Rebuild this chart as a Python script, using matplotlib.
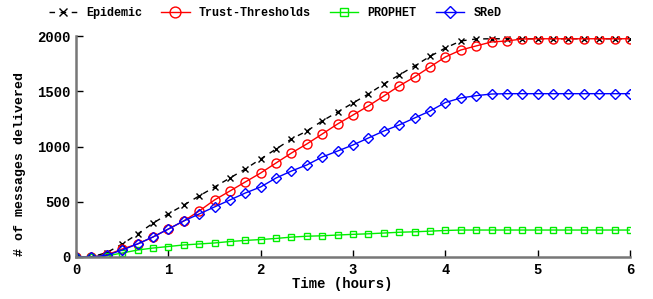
import numpy as np
import matplotlib.pyplot as plt

# time in hours, one sample every 10 minutes
time_h = np.arange(37) / 6.0

epidemic = [0, 0, 40, 117, 208, 306, 390, 470, 552, 633, 715, 796, 887, 977,
            1068, 1140, 1231, 1312, 1394, 1475, 1566, 1647, 1729, 1815, 1891,
            1955, 1973, 1975, 1975, 1975, 1975, 1975, 1975, 1975, 1975, 1975, 1975]
trust = [0, 0, 18, 72, 118, 181, 253, 326, 416, 516, 597, 679, 760, 851, 941,
         1023, 1113, 1204, 1285, 1367, 1457, 1548, 1629, 1720, 1810, 1873, 1910,
         1946, 1955, 1973, 1975, 1975, 1975, 1975, 1975, 1975, 1975]
prophet = [0, 0, 10, 36, 63, 81, 95, 109, 118, 127, 140, 150, 158, 168, 180,
           188, 192, 199, 205, 210, 217, 224, 228, 234, 240, 244, 244, 244, 244,
           244, 244, 244, 244, 244, 244, 244, 244]
sred = [0, 0, 15, 63, 118, 181, 253, 326, 389, 453, 516, 579, 634, 715, 778,
        833, 905, 959, 1014, 1077, 1140, 1195, 1258, 1321, 1398, 1439, 1460,
        1475, 1478, 1478, 1478, 1478, 1478, 1478, 1478, 1478, 1478]

plt.rcParams['font.family'] = ['Liberation Mono', 'DejaVu Sans']
plt.rcParams['font.weight'] = 'bold'

fig = plt.figure(figsize=(6.53, 2.99), dpi=100)
ax = fig.add_axes([76 / 653, 1 - 257 / 299, (630 - 76) / 653, (257 - 36) / 299])

ax.plot(time_h, epidemic, color='black', lw=1, ls=(0, (4, 4)), marker='x',
        ms=4.5, mew=1, label='Epidemic')
ax.plot(time_h, trust, color='red', lw=1, marker='o', ms=6.5, mfc='none',
        mew=1, label='Trust-Thresholds')
ax.plot(time_h, prophet, color='#00ee00', lw=1, marker='s', ms=5, mfc='none',
        mew=1, label='PROPHET')
ax.plot(time_h, sred, color='blue', lw=1, marker='D', ms=5, mfc='none',
        mew=1, label='SReD')

ax.set_xlim(0, 6)
ax.set_ylim(0, 2000)
ax.set_xticks(range(7))
ax.set_yticks([0, 500, 1000, 1500, 2000])
for s in ['top', 'right']:
    ax.spines[s].set_visible(False)
for s in ['left', 'bottom']:
    ax.spines[s].set_color('#777777')
    ax.spines[s].set_linewidth(1.8)
ax.tick_params(direction='in', length=5, width=1, labelsize=10, pad=4)
for lab in ax.get_xticklabels() + ax.get_yticklabels():
    lab.set_fontweight('bold')

ax.set_xlabel('Time (hours)', fontsize=10, fontweight='bold')
ax.set_ylabel('# of messages delivered', fontsize=9.5, fontweight='bold')
ax.xaxis.set_label_coords(0.48, -0.09)
ax.yaxis.set_label_coords(-0.091, 0.42)

leg = fig.legend(loc='center', bbox_to_anchor=(275 / 653, 1 - 13 / 299), ncol=4,
                 frameon=False, handlelength=2.4, handletextpad=0.8,
                 columnspacing=1.6, prop={'weight': 'bold', 'size': 8.5})
for h in leg.legend_handles:
    h.set_markersize(h.get_markersize() * 1.2)

fig.savefig('out.png', dpi=100)
